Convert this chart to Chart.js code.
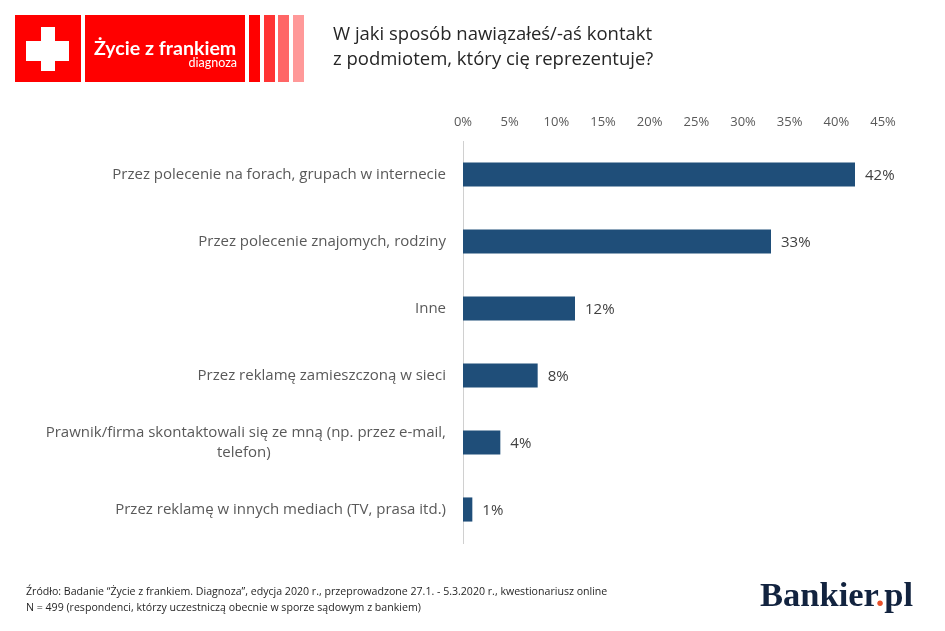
<!DOCTYPE html>
<html lang="pl">
<head>
<meta charset="utf-8">
<title>Życie z frankiem</title>
<script src="https://cdn.jsdelivr.net/npm/chart.js@4"></script>
<style>
    body { margin: 0; background: #fff; font-family: "Open Sans", sans-serif; }
    #wrap { position: relative; width: 945px; height: 631px; overflow: hidden; }
    #chart { position: absolute; left: 0; top: 0; }
    .box { position: absolute; top: 15px; height: 67px; }
    .txt { position: absolute; white-space: nowrap; }
    #title { left: 333px; top: 20px; font-size: 18.5px; line-height: 25px; color: #262626; }
    #source { left: 26px; top: 583px; font-size: 10.6px; line-height: 16px; color: #262626; }
    #brand { left: 760px; top: 572px; font-family: "Liberation Serif", serif; font-weight: bold; font-size: 34.5px; line-height: 44px; color: #12233f; }
    #brand span { color: #e8502a; }
</style>
</head>
<body>
<div id="wrap">
    <canvas id="chart" width="945" height="631"></canvas>

    <div class="box" style="left:15px;width:66px;background:#f00"></div>
    <div class="box" style="left:26px;top:41px;width:43px;height:20px;background:#fff"></div>
    <div class="box" style="left:41px;top:27px;width:14px;height:44px;background:#fff"></div>
    <div class="box" style="left:85px;width:160px;background:#f00"></div>
    <div class="box" style="left:249px;width:11px;background:#f00"></div>
    <div class="box" style="left:264px;width:11px;background:#f33"></div>
    <div class="box" style="left:278px;width:11px;background:#f66"></div>
    <div class="box" style="left:293px;width:11px;background:#f99"></div>
    <div class="txt" style="left:94px;top:37px;font:bold 19.6px/22px Lato,sans-serif;color:#fff">Życie z frankiem</div>
    <div class="txt" style="right:708px;top:56px;font:12.5px/14px Lato,sans-serif;color:#fff">diagnoza</div>

    <div class="txt" id="title">W jaki sposób nawiązałeś/-aś kontakt<br>z podmiotem, który cię reprezentuje?</div>
    <div class="txt" id="source">Źródło: Badanie “Życie z frankiem. Diagnoza”, edycja 2020 r., przeprowadzone 27.1. - 5.3.2020 r., kwestionariusz online<br>N = 499 (respondenci, którzy uczestniczą obecnie w sporze sądowym z bankiem)</div>
    <div class="txt" id="brand">Bankier<span>.</span>pl</div>
</div>

<script>
const categories = [
    'Przez polecenie na forach, grupach w internecie',
    'Przez polecenie znajomych, rodziny',
    'Inne',
    'Przez reklamę zamieszczoną w sieci',
    // second line padded so it sits centred under the first one
    ['Prawnik/firma skontaktowali się ze mną (np. przez e-mail,', 'telefon)' + '\u00a0'.repeat(45)],
    'Przez reklamę w innych mediach (TV, prasa itd.)'
];
const shares = [42, 33, 12, 8, 4, 1];
const axisMax = 45;
const axisStep = 5;

const labelFont = { family: '"Open Sans", sans-serif', size: 15, lineHeight: 1.35 };

// percentage next to the end of every bar
const barValues = {
    id: 'barValues',
    afterDatasetsDraw(chart) {
        const ctx = chart.ctx;
        const meta = chart.getDatasetMeta(0);
        ctx.save();
        ctx.font = '15px "Open Sans", sans-serif';
        ctx.fillStyle = '#404040';
        ctx.textAlign = 'left';
        ctx.textBaseline = 'middle';
        meta.data.forEach((bar, i) => {
            ctx.fillText(shares[i] + '%', bar.x + 10, bar.y + 1);
        });
        ctx.restore();
    }
};

new Chart(document.getElementById('chart'), {
    type: 'bar',
    data: {
        labels: categories,
        datasets: [{
            data: shares,
            backgroundColor: '#1f4e79',
            borderWidth: 0,
            barPercentage: 0.36,
            categoryPercentage: 1
        }]
    },
    options: {
        indexAxis: 'y',
        responsive: false,
        animation: false,
        layout: { padding: { right: 62, bottom: 88 } },
        plugins: {
            legend: { display: false },
            tooltip: { enabled: false }
        },
        scales: {
            x: {
                position: 'top',
                min: 0,
                max: axisMax,
                afterFit: function(scale) { scale.height = 141; },
                grid: { display: false, drawTicks: false },
                border: { display: false },
                ticks: {
                    stepSize: axisStep,
                    autoSkip: false,
                    maxRotation: 0,
                    padding: 11,
                    color: '#595959',
                    font: { family: '"Open Sans", sans-serif', size: 13 },
                    callback: function(value) { return value + '%'; }
                }
            },
            y: {
                afterFit: function(scale) { scale.width = 463; },
                grid: { display: false, drawTicks: false },
                border: { display: true, color: '#d0d0d0', width: 1 },
                ticks: {
                    autoSkip: false,
                    crossAlign: 'near',
                    padding: 17,
                    color: '#595959',
                    font: labelFont
                }
            }
        }
    },
    plugins: [barValues]
});
</script>
</body>
</html>
